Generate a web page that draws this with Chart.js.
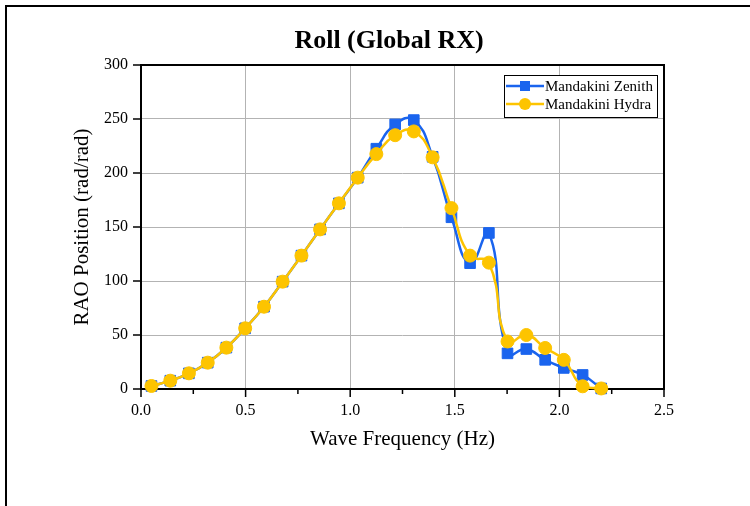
<!DOCTYPE html>
<html>
<head>
<meta charset="utf-8">
<title>Roll (Global RX)</title>
<script src="https://cdn.jsdelivr.net/npm/chart.js@4.4.1/dist/chart.umd.min.js"></script>
<style>
  html, body { margin: 0; padding: 0; background: #fff; }
  #wrap { width: 750px; height: 506px; }
</style>
</head>
<body>
<div id="wrap"><canvas id="rollChart" width="750" height="506"></canvas></div>
<script>
// RAO roll response vs wave frequency
const frequencies = [0.050, 0.140, 0.229, 0.319, 0.408, 0.498, 0.588, 0.677, 0.767, 0.856,
  0.946, 1.036, 1.125, 1.215, 1.304, 1.394, 1.484, 1.573, 1.663, 1.752,
  1.842, 1.932, 2.021, 2.111, 2.200];
const zenithRao = [2.8, 7.7, 14.5, 24.4, 38.3, 56.2, 76.2, 99.4, 123.5, 147.8,
  171.9, 195.7, 222.5, 245, 249, 215, 159, 116.5, 144.5, 33,
  37, 27, 19.5, 13, 0.5];
const hydraRao = [2.8, 7.7, 14.5, 24.4, 38.3, 56.2, 76.2, 99.4, 123.5, 147.8,
  171.9, 195.7, 217.5, 235, 238.5, 214.5, 167.5, 123.5, 117, 44,
  50, 38, 27, 2.5, 0.5];
const seriesNames = ["Mandakini Zenith", "Mandakini Hydra"];

const SERIF = "'Liberation Serif', 'Times New Roman', serif";
const BLUE = "#1a64ee";
const YELLOW = "#fdc400";
const GRID = "#b3b3b3";

function toPoints(values) {
  return frequencies.map((f, i) => ({ x: f, y: values[i] }));
}

function line(ctx, x1, y1, x2, y2) {
  ctx.beginPath();
  ctx.moveTo(x1, y1);
  ctx.lineTo(x2, y2);
  ctx.stroke();
}

// plot box, tick marks, title, page border and the boxed legend
const framePlugin = {
  id: "frame",
  beforeDatasetsDraw(chart) {
    const { ctx, chartArea: a, scales: { x, y } } = chart;
    ctx.save();
    ctx.strokeStyle = "#000";
    ctx.lineWidth = 2;
    ctx.strokeRect(a.left, a.top, a.right - a.left, a.bottom - a.top);

    ctx.lineWidth = 1.5;
    y.ticks.forEach(t => {
      const py = y.getPixelForValue(t.value);
      line(ctx, a.left - 8, py, a.left, py);
    });
    x.ticks.forEach((t, i) => {
      const px = x.getPixelForValue(t.value);
      line(ctx, px, a.bottom, px, a.bottom + 8);
      if (i < x.ticks.length - 1) {
        const mx = x.getPixelForValue((t.value + x.ticks[i + 1].value) / 2);
        line(ctx, mx, a.bottom, mx, a.bottom + 5);
      }
    });
    ctx.restore();
  },
  afterDraw(chart) {
    const { ctx, chartArea: a } = chart;
    ctx.save();

    // page border (left and top)
    ctx.strokeStyle = "#000";
    ctx.lineWidth = 2;
    ctx.beginPath();
    ctx.moveTo(6, chart.height);
    ctx.lineTo(6, 6);
    ctx.lineTo(chart.width, 6);
    ctx.stroke();

    // title
    ctx.fillStyle = "#000";
    ctx.font = "bold 26px " + SERIF;
    ctx.textAlign = "center";
    ctx.textBaseline = "middle";
    ctx.fillText("Roll (Global RX)", 389, 41);

    // legend
    const boxW = 153, boxH = 42;
    const bx = a.right - 7 - boxW, by = a.top + 10;
    ctx.fillStyle = "#fff";
    ctx.fillRect(bx, by, boxW, boxH);
    ctx.lineWidth = 1;
    ctx.strokeStyle = "#000";
    ctx.strokeRect(bx + 0.5, by + 0.5, boxW, boxH);

    const colors = [BLUE, YELLOW];
    seriesNames.forEach((name, i) => {
      const ly = by + 11 + i * 18;
      ctx.strokeStyle = colors[i];
      ctx.fillStyle = colors[i];
      ctx.lineWidth = 2.5;
      line(ctx, bx + 2, ly, bx + 40, ly);
      const mx = bx + 21;
      if (i === 0) {
        ctx.fillRect(mx - 5, ly - 5, 10, 10);
      } else {
        ctx.beginPath();
        ctx.arc(mx, ly, 6, 0, Math.PI * 2);
        ctx.fill();
      }
      ctx.fillStyle = "#000";
      ctx.font = "15px " + SERIF;
      ctx.textAlign = "left";
      ctx.textBaseline = "middle";
      ctx.fillText(name, bx + 41, ly + 1);
    });
    ctx.restore();
  }
};

const edgeGrid = (lo, hi) => c =>
  (c.tick && (c.tick.value === lo || c.tick.value === hi)) ? "rgba(0,0,0,0)" : GRID;

new Chart(document.getElementById("rollChart"), {
  type: "line",
  data: {
    datasets: [
      {
        label: seriesNames[0],
        data: toPoints(zenithRao),
        borderColor: BLUE,
        backgroundColor: BLUE,
        borderWidth: 2.5,
        pointStyle: "rect",
        pointRadius: 7.5,
        pointBorderWidth: 1,
        tension: 0.5,
        clip: false,
        order: 1
      },
      {
        label: seriesNames[1],
        data: toPoints(hydraRao),
        borderColor: YELLOW,
        backgroundColor: YELLOW,
        borderWidth: 2.5,
        pointStyle: "circle",
        pointRadius: 6.5,
        pointBorderWidth: 1,
        tension: 0.5,
        clip: false,
        order: 0
      }
    ]
  },
  options: {
    responsive: false,
    animation: false,
    devicePixelRatio: 1,
    layout: { padding: { top: 65, right: 86, bottom: 0, left: 0 } },
    plugins: {
      legend: { display: false },
      title: { display: false },
      tooltip: { enabled: false }
    },
    scales: {
      x: {
        type: "linear",
        min: 0,
        max: 2.5,
        border: { display: false },
        grid: { color: edgeGrid(0, 2.5), lineWidth: 1, drawTicks: false },
        ticks: {
          stepSize: 0.5,
          padding: 12,
          color: "#000",
          maxRotation: 0,
          font: { family: SERIF, size: 16 },
          callback: v => v.toFixed(1)
        },
        title: {
          display: true,
          text: "Wave Frequency (Hz)",
          color: "#000",
          font: { family: SERIF, size: 21 },
          padding: { top: 0, bottom: 54 }
        },
        afterFit: s => { s.height = 117; }
      },
      y: {
        min: 0,
        max: 300,
        border: { display: false },
        grid: { color: edgeGrid(0, 300), lineWidth: 1, drawTicks: false },
        ticks: {
          stepSize: 50,
          padding: 13,
          color: "#000",
          font: { family: SERIF, size: 16 }
        },
        title: {
          display: true,
          text: "RAO Position (rad/rad)",
          color: "#000",
          font: { family: SERIF, size: 21 },
          padding: { top: 70, bottom: 0 }
        },
        afterFit: s => { s.width = 141; }
      }
    }
  },
  plugins: [framePlugin]
});
</script>
</body>
</html>
